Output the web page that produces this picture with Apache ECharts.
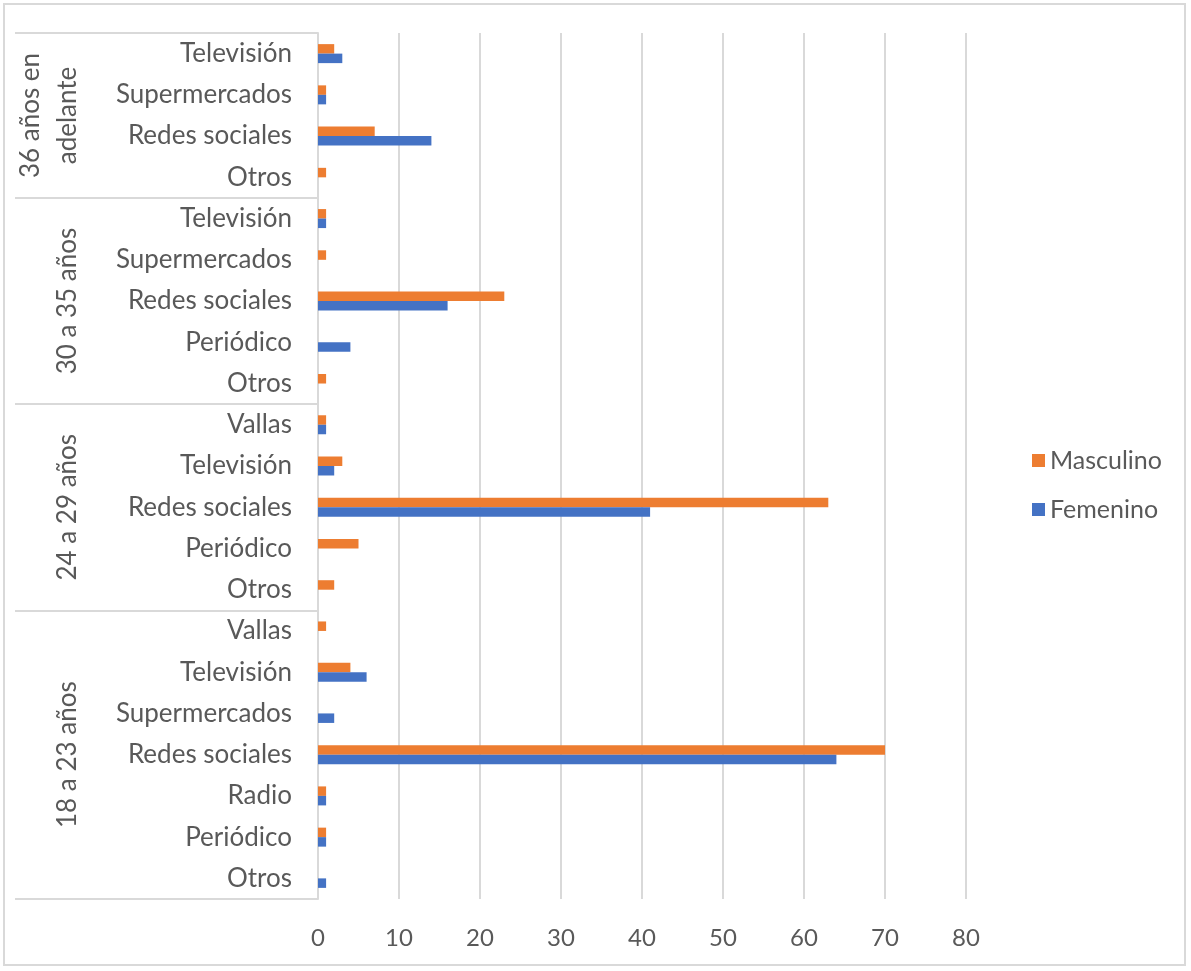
<!DOCTYPE html>
<html>
<head>
<meta charset="utf-8">
<script src="https://cdn.jsdelivr.net/npm/echarts@6/dist/echarts.min.js"></script>
<style>
  html, body { margin: 0; padding: 0; background: #fff; }
  #chart { width: 1191px; height: 971px; }
  #frame { position: absolute; left: 3px; top: 3px; width: 1183px; height: 963px;
           border: 2px solid #d9d9d9; box-sizing: border-box; pointer-events: none; }
</style>
</head>
<body>
<div id="chart"></div>
<div id="frame"></div>
<script>
// Media channel by age group, listed bottom to top
const groupLabels = ['18 a 23 años', '24 a 29 años', '30 a 35 años', '36 años en\nadelante'];
const groupSizes = [7, 5, 5, 4];
const categories = [
  'Otros', 'Periódico', 'Radio', 'Redes sociales', 'Supermercados', 'Televisión', 'Vallas',
  'Otros', 'Periódico', 'Redes sociales', 'Televisión', 'Vallas',
  'Otros', 'Periódico', 'Redes sociales', 'Supermercados', 'Televisión',
  'Otros', 'Redes sociales', 'Supermercados', 'Televisión'
];
const masculino = [0, 1, 1, 70, 0, 4, 1,  2, 5, 63, 3, 1,  1, 0, 23, 1, 1,  1, 7, 1, 2];
const femenino = [1, 1, 1, 64, 2, 6, 0,  0, 0, 41, 2, 1,  0, 4, 16, 0, 1,  0, 14, 1, 3];
const xTicks = [0, 10, 20, 30, 40, 50, 60, 70, 80];

// Group boundaries and centres in category units
const boundaries = [0];
groupSizes.forEach(n => boundaries.push(boundaries[boundaries.length - 1] + n));
const centres = groupSizes.map((n, i) => boundaries[i] + n / 2);

const FONT = 'Lato, "Open Sans", sans-serif';
const TEXT = '#595959';
const LINE = '#d9d9d9';

const chart = echarts.init(document.getElementById('chart'));
chart.setOption({
  animation: false,
  textStyle: { fontFamily: FONT },
  grid: { left: 318, right: 225, top: 33, bottom: 72, containLabel: false },
  legend: {
    data: ['Masculino', 'Femenino'],
    orient: 'vertical',
    left: 1027,
    top: 443,
    icon: 'rect',
    itemWidth: 13,
    itemHeight: 13,
    itemGap: 24,
    textStyle: { fontFamily: FONT, fontSize: 25, color: TEXT, padding: [0, 0, 0, 0] }
  },
  xAxis: {
    type: 'value',
    min: xTicks[0],
    max: xTicks[xTicks.length - 1],
    interval: xTicks[1] - xTicks[0],
    axisLine: { show: false },
    axisTick: { show: false },
    axisLabel: { fontSize: 24, color: TEXT, margin: 27, fontFamily: FONT },
    splitLine: { show: true, lineStyle: { color: LINE, width: 2 } }
  },
  yAxis: [
    {
      type: 'category',
      data: categories,
      axisLine: { show: true, lineStyle: { color: LINE, width: 2 } },
      axisTick: { show: false },
      axisLabel: { fontSize: 26, color: TEXT, margin: 26, fontFamily: FONT }
    },
    {
      type: 'value',
      position: 'left',
      min: 0,
      max: categories.length,
      axisLine: { show: false },
      splitLine: { show: false },
      axisTick: {
        show: true,
        customValues: boundaries,
        length: 303,
        lineStyle: { color: LINE, width: 2 }
      },
      axisLabel: {
        show: true,
        customValues: centres,
        rotate: 90,
        margin: 232,
        fontSize: 26,
        lineHeight: 37,
        color: TEXT,
        fontFamily: FONT,
        formatter: v => {
          const i = centres.findIndex(c => Math.abs(c - v) < 1e-6);
          return i >= 0 ? groupLabels[i] : '';
        }
      }
    }
  ],
  series: [
    {
      name: 'Masculino',
      type: 'bar',
      yAxisIndex: 0,
      data: masculino,
      barWidth: 9.5,
      barGap: '0%',
      itemStyle: { color: '#ED7D31' }
    },
    {
      name: 'Femenino',
      type: 'bar',
      yAxisIndex: 0,
      data: femenino,
      barWidth: 9.5,
      barGap: '0%',
      itemStyle: { color: '#4472C4' }
    }
  ]
});
</script>
</body>
</html>
